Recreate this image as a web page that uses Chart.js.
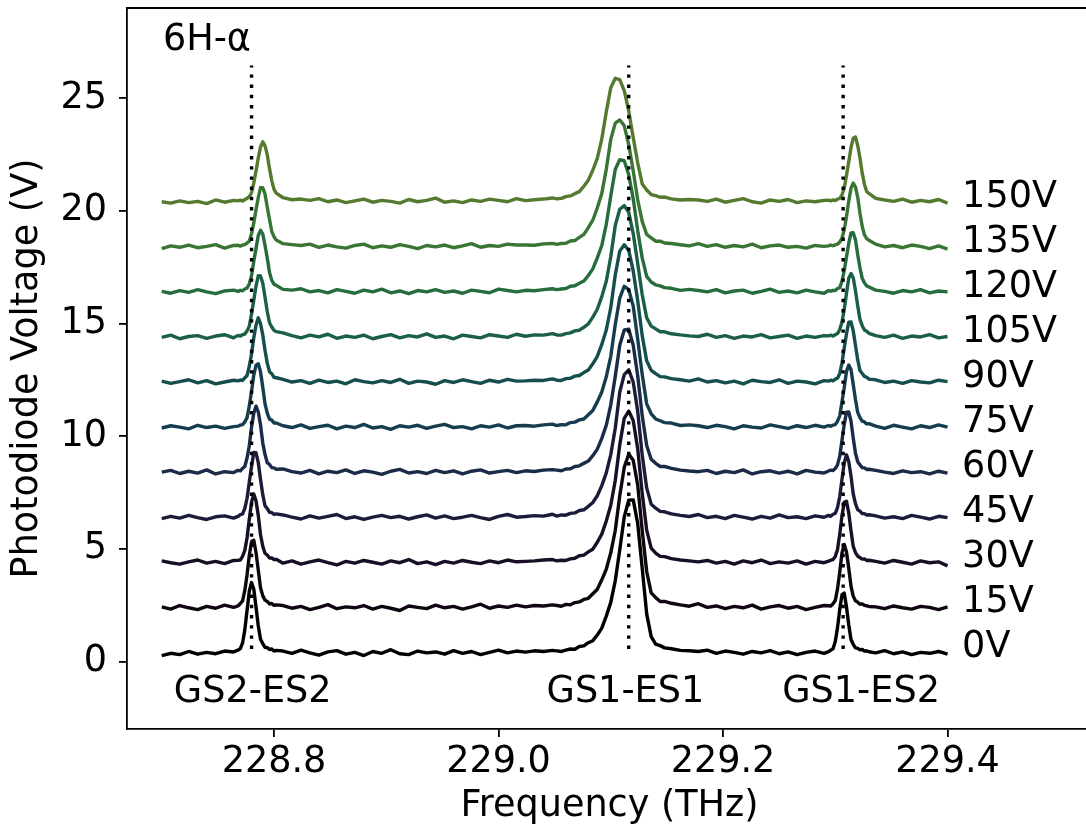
<!DOCTYPE html>
<html>
<head>
<meta charset="utf-8">
<script src="https://cdn.jsdelivr.net/npm/chart.js@4.4.0/dist/chart.umd.min.js"></script>
<style>
  html, body { margin: 0; padding: 0; background: #fff; overflow: hidden; }
  #wrap { width: 1086px; height: 835px; overflow: hidden; }
  canvas { display: block; }
</style>
</head>
<body>
<div id="wrap"><canvas id="chart" width="1100" height="835"></canvas></div>
<script>
// frequency grid (THz), shared by every trace; finer around the three lines
const freq = [
  228.700, 228.708, 228.716, 228.724, 228.732, 228.740, 228.748, 228.756, 228.764,
  228.768, 228.770, 228.772, 228.774, 228.776, 228.778, 228.780, 228.782, 228.784, 228.786, 228.788, 228.790, 228.792, 228.794, 228.796, 228.798, 228.800, 228.802,
  228.808, 228.816, 228.824, 228.832, 228.840, 228.848, 228.856, 228.864, 228.872, 228.880, 228.888, 228.896, 228.904, 228.912, 228.920, 228.928, 228.936, 228.944, 228.952, 228.960, 228.968, 228.976, 228.984, 228.992, 229.000, 229.008, 229.016, 229.024, 229.032, 229.040, 229.048,
  229.052, 229.056, 229.060, 229.064, 229.068, 229.072, 229.076, 229.080, 229.084, 229.088, 229.092, 229.096, 229.100, 229.104, 229.108, 229.112, 229.116, 229.120, 229.124, 229.128, 229.132, 229.136, 229.140, 229.144, 229.148,
  229.154, 229.162, 229.170, 229.178, 229.186, 229.194, 229.202, 229.210, 229.218, 229.226, 229.234, 229.242, 229.250, 229.258, 229.266, 229.274, 229.282, 229.290,
  229.294, 229.296, 229.298, 229.300, 229.302, 229.304, 229.306, 229.308, 229.310, 229.312, 229.314, 229.316, 229.318, 229.320, 229.322, 229.324, 229.326, 229.328, 229.330,
  229.336, 229.344, 229.352, 229.360, 229.368, 229.376, 229.384, 229.392, 229.400
];

const voltages = ['0V', '15V', '30V', '45V', '60V', '75V', '90V', '105V', '120V', '135V', '150V'];
const offsets = [0, 2, 4, 6, 8, 10, 12, 14, 16, 18, 20];
const colors = ['#000000', '#0f0612', '#180f26', '#1b1c39', '#192b47', '#163d4e',
                '#154f4d', '#1a5f46', '#266c3c', '#397533', '#54792f'];

// photodiode voltage (V) of each trace, before the vertical offset
const v0 = [
  0.26, 0.36, 0.30, 0.44, 0.32, 0.40, 0.34, 0.46, 0.42,
  0.50, 0.57, 0.82, 1.40, 2.27, 3.12, 3.50, 3.20, 2.40, 1.57, 0.98, 0.79, 0.62, 0.61, 0.53, 0.55, 0.46, 0.49,
  0.46, 0.36, 0.50, 0.38, 0.28, 0.42, 0.48, 0.32, 0.40, 0.26, 0.44, 0.36, 0.52, 0.34, 0.30, 0.46, 0.38, 0.42, 0.32, 0.48, 0.36, 0.44, 0.30, 0.40, 0.50, 0.38, 0.46, 0.41, 0.47, 0.44, 0.49,
  0.47, 0.44, 0.50, 0.55, 0.54, 0.66, 0.69, 0.83, 0.92, 1.17, 1.48, 2.01, 2.62, 3.58, 4.95, 6.41, 7.15, 7.17, 6.12, 4.14, 2.11, 1.10, 0.77, 0.70, 0.60,
  0.56, 0.49, 0.47, 0.44, 0.50, 0.36, 0.46, 0.40, 0.32, 0.44, 0.38, 0.48, 0.34, 0.42, 0.30, 0.40, 0.46, 0.36,
  0.43, 0.50, 0.56, 0.88, 1.50, 2.31, 2.96, 3.03, 2.41, 1.63, 0.97, 0.76, 0.60, 0.58, 0.52, 0.53, 0.46, 0.47, 0.43,
  0.38, 0.48, 0.34, 0.42, 0.30, 0.40, 0.36, 0.44, 0.32
];
const v15 = [
  0.42, 0.32, 0.48, 0.38, 0.30, 0.44, 0.36, 0.50, 0.40,
  0.46, 0.57, 0.69, 1.15, 1.85, 2.71, 3.31, 3.38, 2.82, 2.04, 1.27, 0.91, 0.72, 0.66, 0.55, 0.57, 0.49, 0.51,
  0.48, 0.36, 0.44, 0.30, 0.40, 0.52, 0.34, 0.42, 0.38, 0.48, 0.32, 0.44, 0.36, 0.26, 0.46, 0.40, 0.34, 0.50, 0.38, 0.44, 0.32, 0.42, 0.54, 0.36, 0.46, 0.40, 0.50, 0.42, 0.48, 0.46, 0.51,
  0.48, 0.45, 0.53, 0.51, 0.61, 0.64, 0.75, 0.80, 1.00, 1.20, 1.62, 2.09, 2.82, 3.81, 5.35, 6.61, 7.20, 6.93, 5.83, 3.81, 1.99, 1.04, 0.83, 0.66, 0.66,
  0.58, 0.51, 0.45, 0.56, 0.40, 0.46, 0.34, 0.44, 0.38, 0.50, 0.32, 0.42, 0.48, 0.36, 0.44, 0.30, 0.40, 0.48,
  0.47, 0.46, 0.56, 0.70, 1.22, 1.97, 2.83, 3.19, 2.86, 2.13, 1.34, 0.89, 0.69, 0.63, 0.54, 0.55, 0.49, 0.47, 0.44,
  0.42, 0.34, 0.46, 0.38, 0.32, 0.44, 0.40, 0.30, 0.42
];
const v30 = [
  0.46, 0.38, 0.32, 0.42, 0.50, 0.36, 0.44, 0.34, 0.48,
  0.49, 0.50, 0.66, 0.93, 1.49, 2.32, 3.07, 3.43, 3.12, 2.47, 1.62, 1.11, 0.80, 0.72, 0.59, 0.59, 0.52, 0.53,
  0.36, 0.46, 0.32, 0.42, 0.50, 0.38, 0.28, 0.44, 0.36, 0.48, 0.40, 0.32, 0.46, 0.38, 0.52, 0.34, 0.42, 0.30, 0.44, 0.36, 0.48, 0.40, 0.34, 0.46, 0.38, 0.50, 0.42, 0.44, 0.46, 0.50, 0.52,
  0.46, 0.49, 0.48, 0.55, 0.58, 0.69, 0.72, 0.86, 0.98, 1.29, 1.65, 2.23, 2.93, 4.03, 5.61, 6.79, 7.11, 6.69, 5.44, 3.47, 1.83, 1.03, 0.81, 0.66, 0.65,
  0.56, 0.50, 0.46, 0.42, 0.48, 0.36, 0.44, 0.32, 0.46, 0.38, 0.50, 0.34, 0.42, 0.36, 0.46, 0.32, 0.44, 0.38,
  0.45, 0.49, 0.52, 0.66, 0.97, 1.66, 2.47, 3.06, 3.11, 2.59, 1.80, 1.11, 0.83, 0.67, 0.61, 0.54, 0.55, 0.48, 0.49,
  0.44, 0.36, 0.48, 0.40, 0.32, 0.46, 0.38, 0.42, 0.24
];
const v45 = [
  0.34, 0.44, 0.36, 0.48, 0.38, 0.30, 0.42, 0.46, 0.36,
  0.44, 0.51, 0.55, 0.79, 1.24, 1.96, 2.66, 3.27, 3.26, 2.82, 2.07, 1.40, 0.91, 0.78, 0.62, 0.60, 0.53, 0.55,
  0.50, 0.40, 0.32, 0.46, 0.36, 0.44, 0.52, 0.34, 0.42, 0.30, 0.40, 0.48, 0.38, 0.44, 0.32, 0.42, 0.50, 0.36, 0.46, 0.34, 0.40, 0.48, 0.38, 0.30, 0.44, 0.52, 0.40, 0.43, 0.47, 0.45, 0.53,
  0.45, 0.50, 0.49, 0.57, 0.59, 0.70, 0.73, 0.88, 1.05, 1.35, 1.80, 2.37, 3.18, 4.35, 5.95, 6.73, 6.94, 6.40, 5.10, 3.16, 1.70, 0.98, 0.80, 0.66, 0.64,
  0.55, 0.48, 0.43, 0.52, 0.38, 0.44, 0.34, 0.48, 0.40, 0.32, 0.44, 0.36, 0.50, 0.38, 0.42, 0.34, 0.46, 0.40,
  0.48, 0.44, 0.53, 0.57, 0.83, 1.33, 2.09, 2.82, 3.17, 2.87, 2.23, 1.43, 1.00, 0.73, 0.67, 0.56, 0.56, 0.50, 0.51,
  0.46, 0.36, 0.42, 0.34, 0.48, 0.40, 0.32, 0.44, 0.38
];
const v60 = [
  0.40, 0.48, 0.34, 0.44, 0.36, 0.50, 0.32, 0.42, 0.38,
  0.48, 0.46, 0.57, 0.65, 1.03, 1.58, 2.41, 3.01, 3.33, 3.07, 2.49, 1.69, 1.18, 0.82, 0.74, 0.60, 0.59, 0.53,
  0.54, 0.42, 0.36, 0.48, 0.32, 0.44, 0.38, 0.50, 0.34, 0.46, 0.40, 0.30, 0.44, 0.52, 0.36, 0.42, 0.34, 0.48, 0.38, 0.46, 0.32, 0.44, 0.50, 0.36, 0.42, 0.48, 0.38, 0.46, 0.43, 0.49, 0.51,
  0.49, 0.46, 0.54, 0.55, 0.65, 0.68, 0.79, 0.89, 1.13, 1.42, 1.90, 2.48, 3.39, 4.65, 6.03, 6.71, 6.74, 6.03, 4.68, 2.91, 1.58, 0.97, 0.79, 0.65, 0.65,
  0.57, 0.49, 0.45, 0.42, 0.48, 0.34, 0.44, 0.38, 0.50, 0.32, 0.42, 0.46, 0.36, 0.44, 0.32, 0.48, 0.40, 0.36,
  0.45, 0.49, 0.47, 0.56, 0.72, 1.11, 1.83, 2.52, 3.06, 3.07, 2.67, 1.91, 1.24, 0.86, 0.72, 0.60, 0.59, 0.52, 0.53,
  0.48, 0.40, 0.34, 0.46, 0.38, 0.42, 0.32, 0.44, 0.36
];
const v75 = [
  0.36, 0.46, 0.40, 0.32, 0.48, 0.38, 0.44, 0.34, 0.42,
  0.44, 0.49, 0.51, 0.63, 0.82, 1.34, 1.99, 2.72, 3.15, 3.21, 2.85, 2.17, 1.43, 1.02, 0.75, 0.71, 0.58, 0.58,
  0.46, 0.38, 0.50, 0.34, 0.42, 0.48, 0.32, 0.44, 0.38, 0.52, 0.36, 0.42, 0.30, 0.46, 0.40, 0.48, 0.34, 0.44, 0.52, 0.38, 0.42, 0.32, 0.46, 0.40, 0.50, 0.36, 0.46, 0.47, 0.44, 0.50, 0.53,
  0.47, 0.51, 0.50, 0.60, 0.62, 0.72, 0.76, 0.95, 1.14, 1.52, 1.96, 2.63, 3.54, 4.95, 6.12, 6.65, 6.50, 5.77, 4.30, 2.74, 1.43, 0.99, 0.76, 0.68, 0.60,
  0.58, 0.47, 0.50, 0.46, 0.38, 0.48, 0.42, 0.32, 0.46, 0.40, 0.36, 0.50, 0.42, 0.34, 0.46, 0.38, 0.48, 0.40,
  0.47, 0.44, 0.49, 0.51, 0.66, 0.90, 1.52, 2.16, 2.87, 3.15, 2.95, 2.29, 1.62, 1.05, 0.82, 0.66, 0.63, 0.54, 0.55,
  0.44, 0.34, 0.48, 0.40, 0.32, 0.46, 0.38, 0.50, 0.40
];
const v90 = [
  0.44, 0.34, 0.42, 0.50, 0.36, 0.46, 0.32, 0.40, 0.48,
  0.45, 0.49, 0.47, 0.58, 0.69, 1.10, 1.65, 2.37, 2.93, 3.25, 2.99, 2.49, 1.80, 1.24, 0.86, 0.77, 0.61, 0.59,
  0.52, 0.40, 0.46, 0.34, 0.48, 0.38, 0.44, 0.32, 0.50, 0.42, 0.36, 0.46, 0.38, 0.52, 0.34, 0.44, 0.40, 0.30, 0.46, 0.38, 0.50, 0.42, 0.34, 0.48, 0.40, 0.52, 0.44, 0.45, 0.48, 0.47, 0.54,
  0.48, 0.47, 0.55, 0.57, 0.66, 0.69, 0.82, 0.93, 1.21, 1.54, 2.07, 2.71, 3.70, 5.15, 6.21, 6.49, 6.24, 5.33, 4.01, 2.46, 1.34, 0.92, 0.77, 0.64, 0.63,
  0.55, 0.50, 0.44, 0.54, 0.40, 0.46, 0.36, 0.44, 0.32, 0.48, 0.42, 0.38, 0.50, 0.34, 0.44, 0.40, 0.32, 0.46,
  0.44, 0.48, 0.45, 0.53, 0.57, 0.78, 1.25, 1.91, 2.54, 3.06, 3.07, 2.67, 2.02, 1.38, 0.91, 0.78, 0.65, 0.61, 0.53,
  0.50, 0.38, 0.44, 0.34, 0.46, 0.40, 0.36, 0.48, 0.42
];
const v105 = [
  0.38, 0.48, 0.32, 0.42, 0.46, 0.34, 0.44, 0.50, 0.36,
  0.47, 0.44, 0.50, 0.53, 0.67, 0.88, 1.42, 2.03, 2.67, 3.12, 3.11, 2.78, 2.16, 1.53, 1.03, 0.84, 0.69, 0.64,
  0.58, 0.46, 0.36, 0.48, 0.40, 0.52, 0.34, 0.44, 0.38, 0.48, 0.32, 0.42, 0.50, 0.36, 0.46, 0.40, 0.54, 0.38, 0.44, 0.32, 0.48, 0.42, 0.36, 0.50, 0.44, 0.38, 0.52, 0.43, 0.49, 0.48, 0.55,
  0.49, 0.48, 0.55, 0.58, 0.67, 0.70, 0.83, 0.98, 1.28, 1.63, 2.19, 2.87, 3.96, 5.35, 6.07, 6.23, 5.93, 4.99, 3.66, 2.28, 1.25, 0.88, 0.76, 0.63, 0.63,
  0.54, 0.49, 0.45, 0.42, 0.52, 0.38, 0.46, 0.34, 0.44, 0.40, 0.50, 0.36, 0.42, 0.48, 0.34, 0.44, 0.38, 0.46,
  0.45, 0.48, 0.44, 0.50, 0.55, 0.73, 1.06, 1.63, 2.34, 3.01, 3.21, 3.03, 2.45, 1.77, 1.18, 0.90, 0.71, 0.65, 0.56,
  0.46, 0.38, 0.48, 0.34, 0.44, 0.40, 0.50, 0.36, 0.42
];
const v120 = [
  0.42, 0.34, 0.46, 0.38, 0.50, 0.40, 0.32, 0.44, 0.48,
  0.42, 0.47, 0.45, 0.53, 0.57, 0.76, 1.12, 1.76, 2.33, 2.91, 3.13, 2.97, 2.46, 1.90, 1.26, 0.91, 0.74, 0.69,
  0.51, 0.48, 0.54, 0.40, 0.46, 0.36, 0.50, 0.42, 0.34, 0.48, 0.40, 0.52, 0.36, 0.44, 0.32, 0.46, 0.40, 0.50, 0.38, 0.44, 0.34, 0.48, 0.42, 0.36, 0.52, 0.46, 0.40, 0.47, 0.45, 0.50, 0.54,
  0.50, 0.53, 0.55, 0.65, 0.67, 0.78, 0.88, 1.13, 1.42, 1.91, 2.46, 3.40, 4.66, 5.83, 6.27, 6.22, 5.60, 4.53, 3.12, 1.91, 1.09, 0.84, 0.71, 0.67, 0.59,
  0.56, 0.47, 0.51, 0.46, 0.40, 0.50, 0.36, 0.44, 0.48, 0.34, 0.42, 0.52, 0.38, 0.44, 0.36, 0.48, 0.40, 0.34,
  0.46, 0.43, 0.47, 0.46, 0.55, 0.59, 0.88, 1.35, 1.95, 2.55, 3.02, 3.03, 2.70, 2.05, 1.47, 1.00, 0.80, 0.66, 0.62,
  0.48, 0.42, 0.34, 0.46, 0.40, 0.50, 0.36, 0.44, 0.40
];
const v135 = [
  0.32, 0.44, 0.38, 0.48, 0.36, 0.42, 0.50, 0.34, 0.46,
  0.47, 0.43, 0.48, 0.50, 0.57, 0.65, 0.99, 1.46, 2.06, 2.59, 3.03, 3.02, 2.74, 2.16, 1.61, 1.08, 0.85, 0.70,
  0.54, 0.50, 0.46, 0.52, 0.38, 0.48, 0.40, 0.34, 0.46, 0.52, 0.36, 0.44, 0.38, 0.50, 0.42, 0.32, 0.46, 0.40, 0.48, 0.36, 0.44, 0.54, 0.38, 0.46, 0.42, 0.52, 0.48, 0.48, 0.47, 0.53, 0.55,
  0.51, 0.55, 0.56, 0.66, 0.68, 0.82, 0.95, 1.25, 1.58, 2.13, 2.77, 3.84, 5.17, 5.89, 6.03, 5.78, 4.94, 3.78, 2.49, 1.53, 0.95, 0.80, 0.65, 0.65, 0.57,
  0.55, 0.49, 0.44, 0.54, 0.42, 0.50, 0.38, 0.46, 0.40, 0.52, 0.36, 0.44, 0.48, 0.38, 0.42, 0.34, 0.46, 0.42,
  0.44, 0.48, 0.45, 0.49, 0.52, 0.61, 0.79, 1.16, 1.74, 2.43, 3.00, 3.23, 3.05, 2.60, 1.89, 1.30, 0.93, 0.76, 0.69,
  0.52, 0.40, 0.46, 0.36, 0.48, 0.42, 0.32, 0.44, 0.30
];
const v150 = [
  0.40, 0.34, 0.44, 0.36, 0.42, 0.32, 0.48, 0.38, 0.46,
  0.44, 0.47, 0.43, 0.50, 0.55, 0.63, 0.80, 1.24, 1.77, 2.35, 2.83, 3.06, 2.88, 2.49, 1.87, 1.34, 0.95, 0.78,
  0.58, 0.49, 0.52, 0.46, 0.54, 0.40, 0.48, 0.36, 0.44, 0.52, 0.38, 0.46, 0.42, 0.34, 0.50, 0.40, 0.46, 0.56, 0.38, 0.44, 0.36, 0.48, 0.42, 0.52, 0.46, 0.40, 0.54, 0.45, 0.49, 0.52, 0.57,
  0.53, 0.55, 0.63, 0.66, 0.76, 0.85, 1.09, 1.36, 1.80, 2.33, 3.19, 4.39, 5.46, 5.88, 5.82, 5.33, 4.43, 3.25, 2.13, 1.19, 0.92, 0.72, 0.67, 0.60, 0.61,
  0.53, 0.48, 0.50, 0.48, 0.42, 0.52, 0.38, 0.46, 0.54, 0.40, 0.34, 0.48, 0.42, 0.50, 0.36, 0.44, 0.40, 0.46,
  0.47, 0.44, 0.48, 0.45, 0.52, 0.55, 0.71, 1.00, 1.58, 2.17, 2.80, 3.22, 3.27, 2.90, 2.34, 1.67, 1.17, 0.86, 0.77,
  0.55, 0.48, 0.42, 0.52, 0.38, 0.46, 0.40, 0.50, 0.34
];
const traces = [v0, v15, v30, v45, v60, v75, v90, v105, v120, v135, v150];

// transition frequencies (THz) marked with dotted lines
const transitions = [228.780, 229.116, 229.307];
const transitionNames = ['GS2-ES2', 'GS1-ES1', 'GS1-ES2'];

const xTicks = [228.8, 229.0, 229.2, 229.4];
const yTicks = [0, 5, 10, 15, 20, 25];

const FONT_SIZE = 36.6;
const FONT = FONT_SIZE + "px 'DejaVu Sans', sans-serif";
Chart.defaults.font.family = "'DejaVu Sans', sans-serif";
Chart.defaults.font.size = FONT_SIZE;
Chart.defaults.color = '#000';

const datasets = traces.map((vals, i) => ({
  label: voltages[i],
  data: freq.map((f, k) => ({ x: f, y: vals[k] + offsets[i] })),
  borderColor: colors[i],
  borderWidth: 3.4,
  borderJoinStyle: 'round',
  pointRadius: 0,
  fill: false,
  tension: 0,
  order: 20 - i
}));
transitions.forEach(f => {
  datasets.push({
    data: [{ x: f, y: 0.55 }, { x: f, y: 26.45 }],
    borderColor: '#000',
    borderWidth: 3.4,
    borderDash: [3.4, 6.8],
    pointRadius: 0,
    fill: false,
    order: 0
  });
});

// text labels and the top/right frame
const annotate = {
  id: 'annotate',
  afterDraw(chart) {
    const { ctx, chartArea, scales: { x, y } } = chart;
    ctx.save();
    ctx.fillStyle = '#000';
    ctx.font = FONT;
    ctx.textBaseline = 'middle';

    ctx.textAlign = 'left';
    voltages.forEach((v, i) => {
      ctx.fillText(v, x.getPixelForValue(229.413), y.getPixelForValue(offsets[i] + 0.6));
    });
    ctx.fillText('6H-α', x.getPixelForValue(228.701), y.getPixelForValue(27.56));

    ctx.textAlign = 'center';
    const labelX = [228.781, 229.113, 229.323];
    transitionNames.forEach((name, i) => {
      ctx.fillText(name, x.getPixelForValue(labelX[i]), y.getPixelForValue(-1.4));
    });

    ctx.strokeStyle = '#000';
    ctx.lineWidth = 1.8;
    ctx.beginPath();
    ctx.moveTo(chartArea.left, chartArea.top);
    ctx.lineTo(chartArea.right, chartArea.top);
    ctx.lineTo(chartArea.right, chartArea.bottom);
    ctx.stroke();
    ctx.restore();
  }
};

new Chart(document.getElementById('chart').getContext('2d'), {
  type: 'line',
  data: { datasets: datasets },
  options: {
    responsive: false,
    animation: false,
    devicePixelRatio: 1,
    layout: { padding: { top: 8, right: 8, left: 0, bottom: 0 } },
    plugins: { legend: { display: false }, tooltip: { enabled: false } },
    scales: {
      x: {
        type: 'linear',
        min: 228.66904,
        max: 229.5287,
        afterBuildTicks: axis => { axis.ticks = xTicks.map(v => ({ value: v })); },
        afterFit: axis => { axis.height = 106; axis.paddingLeft = 0; axis.paddingRight = 0; },
        grid: { drawOnChartArea: false, drawTicks: true, tickLength: 8, color: '#000', lineWidth: 1.8 },
        border: { display: true, color: '#000', width: 1.8 },
        ticks: { padding: 4, maxRotation: 0, autoSkip: false, color: '#000', callback: v => v.toFixed(1) },
        title: { display: true, text: 'Frequency (THz)', color: '#000', padding: { top: 0, bottom: 7 } }
      },
      y: {
        type: 'linear',
        min: -3,
        max: 29,
        afterBuildTicks: axis => { axis.ticks = yTicks.map(v => ({ value: v })); },
        afterFit: axis => { axis.width = 127; axis.paddingTop = 0; axis.paddingBottom = 0; },
        grid: { drawOnChartArea: false, drawTicks: true, tickLength: 8, color: '#000', lineWidth: 1.8 },
        border: { display: true, color: '#000', width: 1.8 },
        ticks: { padding: 12, color: '#000', callback: v => v },
        title: { display: true, text: 'Photodiode Voltage (V)', color: '#000', padding: { top: 6, bottom: 0 } }
      }
    }
  },
  plugins: [annotate]
});
</script>
</body>
</html>
